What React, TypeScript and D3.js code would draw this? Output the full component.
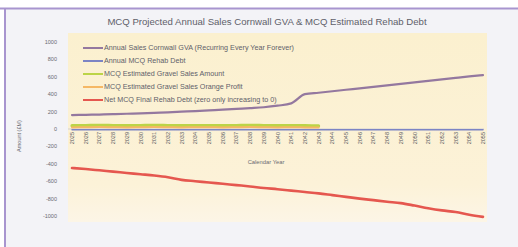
import React from "react";
import * as d3 from "d3";

const years = [
  "2025","2026","2027","2028","2029","2030","2031","2032","2033","2034",
  "2035","2036","2037","2038","2039","2040","2041","2042","2043","2044",
  "2045","2046","2047","2048","2049","2050","2051","2052","2053","2054","2055",
];

const gvaSales = [
  160, 163, 166, 170, 175, 180, 186, 192, 199, 206,
  214, 222, 231, 240, 250, 268, 295, 400, 417, 434,
  451, 468, 485, 502, 519, 536, 553, 570, 587, 604, 620,
];

const rehabDebt = [
  -8, -8, -8, -8, -8, -8, -8, -8, -8, -8,
  -8, -8, -8, -8, -8, -8, -8, -8, -8, -8,
  -8, -8, -8, -8, -8, -8, -8, -8, -8, -8, -8,
];

const gravelSales: (number | null)[] = [
  38, 40, 42, 40, 38, 40, 42, 40, 38, 40,
  40, 38, 40, 42, 40, 38, 40, 38, 36, null,
  null, null, null, null, null, null, null, null, null, null, null,
];

const gravelProfit: (number | null)[] = [
  18, 20, 22, 20, 18, 20, 22, 20, 18, 20,
  20, 18, 20, 22, 20, 18, 20, 18, 16, null,
  null, null, null, null, null, null, null, null, null, null, null,
];

const netDebt = [
  -448, -460, -475, -490, -505, -520, -535, -555, -585, -600,
  -615, -630, -645, -660, -678, -692, -708, -724, -740, -760,
  -780, -800, -818, -836, -852, -880, -910, -935, -955, -985, -1010,
];

const yTicks = [1000, 800, 600, 400, 200, 0, -200, -400, -600, -800, -1000];

const seriesNames = [
  "Annual Sales Cornwall GVA (Recurring Every Year Forever)",
  "Annual MCQ Rehab Debt",
  "MCQ Estimated Gravel Sales Amount",
  "MCQ Estimated Gravel Sales Orange Profit",
  "Net MCQ Final Rehab Debt (zero only increasing to 0)",
];

const seriesColors = ["#94789f", "#7c84c4", "#bcd447", "#f5b865", "#e5574f"];

const title = "MCQ Projected Annual Sales Cornwall GVA & MCQ Estimated Rehab Debt";
const xTitle = "Calendar Year";
const yTitle = "Amount (£M)";

export default function App() {
  const W = 518, H = 247;
  const plot = { x0: 68, x1: 487, y0: 33, y1: 222 };
  const x = d3.scalePoint<string>().domain(years).range([72, 483]);
  const y = d3.scaleLinear().domain([-1000, 1000]).range([216, 42]);
  const font = "'Liberation Sans', Arial, sans-serif";

  const mk = (vals: (number | null)[]) =>
    d3
      .line<number | null>()
      .defined((d) => d !== null)
      .x((_, i) => x(years[i]) as number)
      .y((d) => y(d as number))
      .curve(d3.curveMonotoneX)(vals) || "";

  const series = [gvaSales, rehabDebt, gravelSales, gravelProfit, netDebt];
  const widths = [2.2, 1.5, 3.2, 2, 2.6];
  const drawOrder = [1, 2, 3, 0, 4];

  return (
    <svg
      width={W}
      height={H}
      style={{ position: "fixed", left: 0, top: 0, background: "#ffffff" }}
      fontFamily={font}
    >
      <defs>
        <linearGradient id="plotbg" x1="0" y1="0" x2="0" y2="1">
          <stop offset="0" stopColor="#fbf0cf" />
          <stop offset="0.8" stopColor="#fcf2d8" />
          <stop offset="1" stopColor="#fcf5e6" />
        </linearGradient>
      </defs>
      <rect x={0} y={0} width={W} height={H} fill="#ffffff" />
      <rect x={6} y={9} width={W - 6} height={H - 9} fill="#f3f3f7" />
      <line x1={0} x2={W} y1={8.5} y2={8.5} stroke="#a895cf" strokeWidth={2} />
      <line x1={5} x2={5} y1={8} y2={H} stroke="#a895cf" strokeWidth={2} />
      <rect x={plot.x0} y={plot.y0} width={plot.x1 - plot.x0} height={plot.y1 - plot.y0} fill="url(#plotbg)" />

      <text x={267} y={25} textAnchor="middle" fontSize={9.6} fill="#5f5f6a">
        {title}
      </text>

      {yTicks.map((t) => (
        <text key={t} x={57} y={y(t) + 2} textAnchor="end" fontSize={5.5} fill="#6a6a72">
          {t}
        </text>
      ))}

      <text
        transform={`translate(21,${136}) rotate(-90)`}
        textAnchor="middle"
        fontSize={5.5}
        fill="#6a6a72"
      >
        {yTitle}
      </text>

      <line x1={plot.x0} x2={plot.x1 - 3} y1={y(0)} y2={y(0)} stroke="#c8c8d0" strokeWidth={0.8} />

      {years.map((yr) => (
        <text
          key={yr}
          transform={`translate(${(x(yr) as number) + 2},${y(0) + 3}) rotate(-90)`}
          textAnchor="end"
          fontSize={5.5}
          fill="#5a5a60"
        >
          {yr}
        </text>
      ))}

      <text x={266} y={164} textAnchor="middle" fontSize={5.8} fill="#6a6a72">
        {xTitle}
      </text>

      {drawOrder.map((k) => (
        <path
          key={k}
          d={mk(series[k])}
          fill="none"
          stroke={seriesColors[k]}
          strokeWidth={widths[k]}
          strokeLinejoin="round"
          strokeLinecap="round"
        />
      ))}

      {seriesNames.map((n, i) => {
        const ly = 48 + i * 13;
        return (
          <g key={n}>
            <line x1={83} x2={103} y1={ly} y2={ly} stroke={seriesColors[i]} strokeWidth={2} />
            <text x={104} y={ly + 2.3} fontSize={7.2} fill="#5f5f6a">
              {n}
            </text>
          </g>
        );
      })}
    </svg>
  );
}
